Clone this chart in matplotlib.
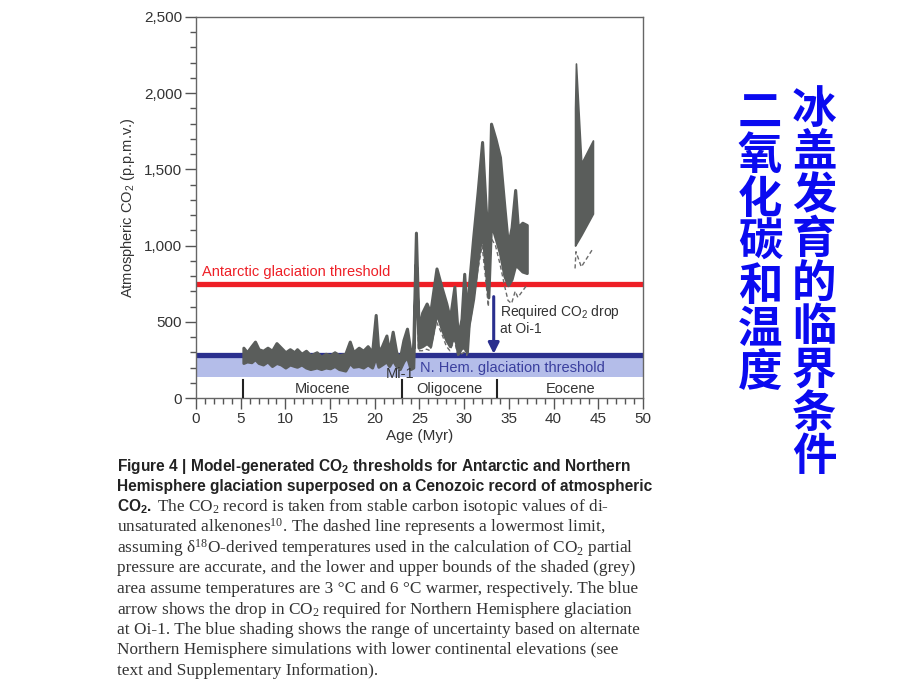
import numpy as np
import matplotlib.pyplot as plt
from matplotlib.ticker import MultipleLocator, FuncFormatter

plt.rcParams['font.family'] = ['Liberation Sans', 'DejaVu Sans']

# Oligocene-Miocene record (age in Myr, CO2 in p.p.m.v.)
age = [5.3, 5.7, 6.2, 6.6, 7.0, 7.5, 8.0, 8.5, 9.0, 9.5, 10.0, 10.5, 11.0, 11.3,
       11.8, 12.3, 12.8, 13.5, 14.0, 14.5, 15.0, 15.5, 16.0, 16.7, 17.2, 17.6,
       18.2, 18.7, 19.2, 19.7, 20.1, 20.4, 20.8, 21.3, 21.6, 22.0, 22.4, 22.8,
       23.2, 23.6, 24.0, 24.3, 24.6, 24.9, 25.3, 25.8, 26.2, 26.9, 27.5, 28.0,
       28.4, 28.9, 29.3, 29.7, 30.0, 30.3, 30.5, 31.0, 31.5, 32.0, 32.4, 32.7,
       33.0, 33.5, 34.0, 34.5, 34.9, 35.3, 35.7, 36.0, 36.5, 37.0]
co2_hi = [330, 300, 340, 370, 320, 310, 330, 310, 360, 330, 300, 320, 300, 320,
          290, 310, 280, 300, 270, 290, 280, 300, 280, 290, 370, 300,
          330, 310, 340, 300, 545, 300, 340, 410, 300, 435, 300, 260,
          380, 455, 300, 330, 1085, 450, 560, 620, 560, 850, 720, 620,
          520, 730, 400, 520, 815, 520, 720, 1050, 1350, 1680, 1250, 1000,
          1800, 1700, 1580, 1250, 1000, 1120, 1365, 1120, 1150, 1135]
co2_lo = [230, 240, 235, 255, 230, 220, 240, 210, 230, 220, 200, 220, 210, 205,
          220, 200, 190, 200, 190, 200, 195, 210, 190, 180, 230, 205,
          210, 200, 220, 200, 270, 205, 220, 240, 210, 250, 210, 190,
          240, 270, 190, 200, 880, 330, 340, 360, 340, 560, 450, 380,
          340, 420, 290, 330, 330, 300, 480, 650, 900, 1100, 850, 660,
          1150, 1050, 950, 800, 740, 780, 870, 860, 830, 820]
co2_min = [250, 260, 255, 280, 250, 240, 260, 230, 250, 240, 220, 240, 230, 225,
           240, 220, 210, 220, 210, 220, 215, 230, 210, 195, 250, 225,
           230, 220, 240, 220, 290, 225, 240, 260, 230, 270, 230, 210,
           260, 290, 205, 220, 800, 310, 310, 320, 310, 500, 420, 340,
           310, 380, 280, 290, 300, 280, 430, 620, 830, 1000, 780, 600,
           1050, 1000, 880, 740, 640, 620, 700, 660, 700, 740]

# Eocene record
eo_age = [42.4, 42.5, 43.1, 44.4]
eo_hi = [1900, 2195, 1540, 1690]
eo_lo = [1000, 1010, 1070, 1210]
eo_min = [850, 960, 860, 980]

antarctic_co2 = 750
nhem_co2 = 280
nhem_co2_low = 140
oi1_age = 33.3
oi1_drop = [665, 290]

epoch_bounds = [5.3, 23.0, 33.7, 50.0]
epoch_names = ['Miocene', 'Oligocene', 'Eocene']

caption_bold = ['Figure 4 | Model-generated CO$\\mathregular{_2}$ thresholds for Antarctic and Northern',
                'Hemisphere glaciation superposed on a Cenozoic record of atmospheric',
                'CO$\\mathregular{_2}$.']
caption_body = ['The CO$\\mathregular{_2}$ record is taken from stable carbon isotopic values of di-',
                'unsaturated alkenones$\\mathregular{^{10}}$. The dashed line represents a lowermost limit,',
                'assuming δ$\\mathregular{^{18}}$O-derived temperatures used in the calculation of CO$\\mathregular{_2}$ partial',
                'pressure are accurate, and the lower and upper bounds of the shaded (grey)',
                'area assume temperatures are 3 °C and 6 °C warmer, respectively. The blue',
                'arrow shows the drop in CO$\\mathregular{_2}$ required for Northern Hemisphere glaciation',
                'at Oi-1. The blue shading shows the range of uncertainty based on alternate',
                'Northern Hemisphere simulations with lower continental elevations (see',
                'text and Supplementary Information).']

title_right = '冰盖发育的临界条件'
title_left = '二氧化碳和温度'

W, H = 920, 690
fig = plt.figure(figsize=(W / 100, H / 100), dpi=100)
ax = fig.add_axes([196 / W, 1 - 398 / H, 447 / W, 381 / H])

grey = '#5a5d5b'
navy = '#2a2f8e'

# blue shading and thresholds
ax.axhspan(nhem_co2_low, nhem_co2, color='#b4bde9', lw=0, zorder=1)
ax.axhline(antarctic_co2, color='#ee1f26', lw=3.8, zorder=2)
ax.axhline(nhem_co2, color=navy, lw=3.8, zorder=2)

# lower-limit dashed lines, then shaded range
ax.plot(age, co2_min, color='#6a6a6a', lw=1, ls=(0, (3, 2)), zorder=3)
ax.plot(eo_age, eo_min, color='#6a6a6a', lw=1, ls=(0, (3, 2)), zorder=3)
ax.fill_between(age, co2_lo, co2_hi, facecolor=grey, edgecolor=grey, lw=2.2, zorder=4)
ax.fill_between(eo_age, eo_lo, eo_hi, facecolor=grey, edgecolor=grey, lw=1.2, zorder=4)

# epochs
for b in epoch_bounds[:-1]:
    ax.plot([b, b], [0, 115], color='#222222', lw=1.5, zorder=5)
for i, name in enumerate(epoch_names):
    ax.text((epoch_bounds[i] + epoch_bounds[i + 1]) / 2, 62, name, ha='center',
            va='center', fontsize=10.5, color='#333333')

ax.text(0.7, 830, 'Antarctic glaciation threshold', color='#ee1f26', fontsize=10.5,
        va='center')
ax.text(25.1, 200, 'N. Hem. glaciation threshold', color='#3a3f9e', fontsize=10.5,
        va='center')
ax.text(21.2, 155, 'Mi-1', color='#333333', fontsize=10.5, va='center', zorder=6)
ax.text(34.0, 515, 'Required CO$\\mathregular{_2}$ drop\nat Oi-1', color='#333333',
        fontsize=10, va='center', linespacing=1.15)
ax.annotate('', xy=(oi1_age, oi1_drop[1]), xytext=(oi1_age, oi1_drop[0]),
            arrowprops=dict(arrowstyle='-|>', color=navy, lw=2.2, mutation_scale=16,
                            shrinkA=0, shrinkB=0), zorder=6)

ax.set_xlim(0, 50)
ax.set_ylim(0, 2500)
ax.xaxis.set_major_locator(MultipleLocator(5))
ax.xaxis.set_minor_locator(MultipleLocator(1))
ax.yaxis.set_major_locator(MultipleLocator(500))
ax.yaxis.set_minor_locator(MultipleLocator(100))
ax.yaxis.set_major_formatter(FuncFormatter(lambda v, p: f'{int(v):,}'))
ax.tick_params(which='major', direction='out', length=8, width=1, color='#555555',
               labelsize=11, labelcolor='#333333', pad=2)
ax.tick_params(which='minor', direction='out', length=4, width=1, color='#555555')
for s in ax.spines.values():
    s.set_color('#666666')
    s.set_linewidth(1)
ax.set_xlabel('Age (Myr)', fontsize=11, color='#333333', labelpad=2)
ax.set_ylabel('Atmospheric CO$\\mathregular{_2}$ (p.p.m.v.)', fontsize=10.5,
              color='#333333', labelpad=5)


def fxy(x, y):
    return x / W, 1 - y / H


# caption
y0 = 466
for i, line in enumerate(caption_bold):
    fig.text(*fxy(117, y0 + 20.5 * i), line, fontsize=11.2, fontweight='bold',
             va='center', color='#222222')
fig.text(*fxy(157, y0 + 41), caption_body[0], family='Liberation Serif',
         fontsize=12.4, va='center', color='#333333')
for i, line in enumerate(caption_body[1:]):
    fig.text(*fxy(117, y0 + 20.5 * (i + 3)), line, family='Liberation Serif',
             fontsize=12.4, va='center', color='#333333')

# Chinese vertical titles
for i, ch in enumerate(title_right):
    fig.text(*fxy(814, 110 + 43.4 * i), ch, family=['Noto Sans CJK SC'],
             fontweight='bold', fontsize=32, color='#0a0af0', ha='center', va='center')
for i, ch in enumerate(title_left):
    fig.text(*fxy(760, 113 + 43.4 * i), ch, family=['Noto Sans CJK SC'],
             fontweight='bold', fontsize=32, color='#0a0af0', ha='center', va='center')

fig.savefig('out.png', dpi=100)
